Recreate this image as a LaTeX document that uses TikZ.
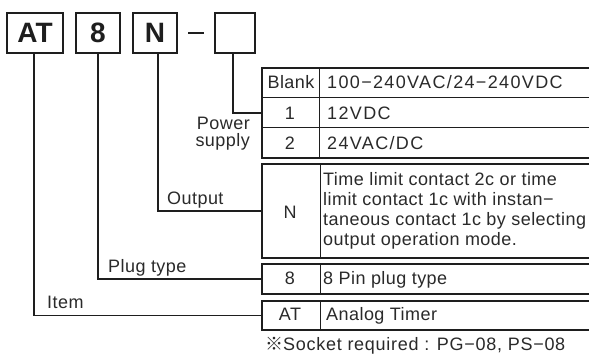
\documentclass[tikz,border=0pt]{standalone}
\usepackage{fontspec}
\setmainfont{Liberation Sans}
\newfontfamily\txtfont[LetterSpace=2.5]{Liberation Sans}
\newfontfamily\numfont[LetterSpace=7.5]{Liberation Sans}
\newfontfamily\notefont[LetterSpace=4]{Liberation Sans}
\newfontfamily\cjk{Noto Sans CJK KR}
\definecolor{ink}{HTML}{1E1E1E}
\definecolor{txt}{HTML}{2A2A2A}
\begin{document}
\begin{tikzpicture}[x=1pt,y=-1pt,
  codebox/.style={draw=ink, line width=1.8pt, inner sep=0pt, minimum height=40pt,
    font=\fontsize{28}{28}\selectfont\bfseries, text=ink},
  tabbox/.style={draw=ink, line width=1.8pt, inner sep=0pt, anchor=north west,
    minimum width=345pt},
  grid/.style={draw=ink, line width=0.8pt},
  conn/.style={draw=ink, line width=1.2pt},
  celltxt/.style={inner sep=0pt, anchor=base, text=txt, font=\fontsize{18}{20}\txtfont},
  lefttxt/.style={celltxt, anchor=base west},
  numtxt/.style={lefttxt, font=\fontsize{18}{20}\numfont},
  notetxt/.style={lefttxt, font=\fontsize{18}{20}\notefont},
]
\useasboundingbox (0,0) rectangle (589,354);
\clip (0,0) rectangle (589,354);
\fill[white] (0,0) rectangle (589,354);

% code boxes
\node[codebox, minimum width=56pt] (bAT) at (35,33) {AT};
\node[codebox, minimum width=44pt] (b8) at (98,33) {8};
\node[codebox, minimum width=44pt] (bN) at (155,33) {N};
\node[codebox, minimum width=40pt] (bX) at (235,33) {};
\node[inner sep=0pt, minimum width=16pt, minimum height=2.8pt, fill=ink] (dash) at (196,33) {};

% table 1: power supply
\node[tabbox, minimum height=90pt] (t1) at (261,67) {};
\draw[grid] (319,67) -- (319,157);
\draw[grid] (261,97) -- (606,97);
\draw[grid] (261,127) -- (606,127);
\node[celltxt] (p0) at (291,88) {Blank};
\node[celltxt] (p1) at (290,119) {1};
\node[celltxt] (p2) at (290,149) {2};
\node[numtxt] (d0) at (327,88) {100−240VAC/24−240VDC};
\node[numtxt] (d1) at (327,119) {12VDC};
\node[numtxt] (d2) at (327,149) {24VAC/DC};

% table 2: output
\node[tabbox, minimum height=94pt] (t2) at (261,163) {};
\draw[grid] (320,163) -- (320,257);
\node[celltxt] (o0) at (290,218) {N};
\node[lefttxt] (e1) at (323,185) {Time limit contact 2c or time};
\node[lefttxt] (e2) at (323,205) {limit contact 1c with instan−};
\node[lefttxt] (e3) at (323,225) {taneous contact 1c by selecting};
\node[lefttxt] (e4) at (323,245) {output operation mode.};

% table 3: plug type
\node[tabbox, minimum height=30pt] (t3) at (261,263) {};
\draw[grid] (320,263) -- (320,293);
\node[celltxt] (q0) at (290,284) {8};
\node[lefttxt] (q1) at (323,284) {8 Pin plug type};

% table 4: item
\node[tabbox, minimum height=29pt] (t4) at (261,300) {};
\draw[grid] (320,300) -- (320,329);
\node[celltxt] (r0) at (290,320) {AT};
\node[lefttxt] (r1) at (326,320) {Analog Timer};

% labels
\node[celltxt, anchor=base east, align=right, font=\fontsize{18}{17}\txtfont] (lp) at (250,146) {Power\\supply};
\node[lefttxt] (lo) at (167,204) {Output};
\node[lefttxt] (lpt) at (108,272) {Plug type};
\node[lefttxt] (li) at (47,308) {Item};
\node[notetxt] (note) at (265,350) {{\cjk ※}Socket required : PG−08, PS−08};

% connectors
\draw[conn] ([xshift=-2pt]bX.south) |- (t1.west);
\draw[conn] ([xshift=3pt]bN.south) |- (t2.west);
\draw[conn] (b8.south) |- (t3.west);
\draw[conn] ([xshift=-1pt]bAT.south) |- (t4.west);
\end{tikzpicture}
\end{document}
